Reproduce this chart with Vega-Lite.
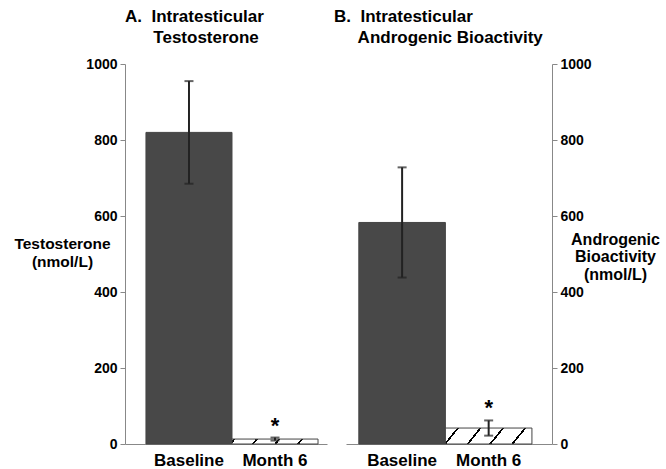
{
  "$schema": "https://vega.github.io/schema/vega-lite/v6.json",
  "background": "white",
  "padding": {"left": 13, "top": 8, "right": 4, "bottom": 0},
  "config": {
    "font": "Liberation Sans",
    "view": {"stroke": null},
    "concat": {"spacing": 19},
    "axis": {
      "labelFont": "Liberation Sans",
      "titleFont": "Liberation Sans",
      "labelFontWeight": "bold",
      "titleFontWeight": "bold",
      "labelColor": "black",
      "titleColor": "black",
      "domainColor": "#888",
      "tickColor": "#888",
      "grid": false
    }
  },
  "bounds": "flush",
  "datasets": {
    "a": [
      {"period": "Baseline", "value": 820, "lo": 685, "hi": 955, "sig": ""},
      {"period": "Month 6", "value": 13, "lo": 9, "hi": 17, "sig": "*"}
    ],
    "b": [
      {"period": "Baseline", "value": 583, "lo": 438, "hi": 728, "sig": ""},
      {"period": "Month 6", "value": 42, "lo": 22, "hi": 62, "sig": "*"}
    ]
  },
  "hconcat": [
    {
      "width": 202,
      "height": 380,
      "data": {"name": "a"},
      "title": {
        "text": ["A.\u00a0\u00a0Intratesticular", "\u200b\u00a0\u00a0\u00a0\u00a0\u00a0\u00a0Testosterone"],
        "anchor": "start",
        "align": "left",
        "frame": "group",
        "font": "Liberation Sans",
        "fontSize": 17,
        "fontWeight": "bold",
        "color": "black",
        "lineHeight": 21,
        "offset": 10
      },
      "encoding": {
        "x": {
          "field": "period",
          "type": "nominal",
          "sort": ["Baseline", "Month 6"],
          "scale": {"paddingInner": 0, "paddingOuter": 0.174, "align": 0.7},
          "axis": {"title": null, "labelAngle": 0, "ticks": false, "labelFontSize": 17, "labelPadding": 8}
        }
      },
      "layer": [
        {
          "mark": {"type": "bar", "stroke": "#444", "strokeWidth": 1},
          "encoding": {
            "y": {
              "field": "value",
              "type": "quantitative",
              "scale": {"domain": [0, 1000], "nice": false},
              "axis": {
                "values": [0, 200, 400, 600, 800, 1000],
                "format": "d",
                "tickSize": 5,
                "labelFontSize": 14,
                "labelPadding": 3,
                "title": ["Testosterone", "(nmol/L)"],
                "titleAngle": 0,
                "titleFontSize": 15.5,
                "titleAlign": "center",
                "titleBaseline": "middle",
                "titleLineHeight": 18,
                "titleX": -63,
                "titleY": 179
              }
            },
            "fill": {
              "condition": {
                "test": "datum.period === 'Month 6'",
                "value": {
                  "gradient": "linear", "x1": 0, "y1": 0, "x2": 1, "y2": 0.045,
                  "stops": [
                    {"offset": 0, "color": "white"},
                    {"offset": 0.015, "color": "white"}, {"offset": 0.015, "color": "black"},
                    {"offset": 0.04, "color": "black"}, {"offset": 0.04, "color": "white"},
                    {"offset": 0.275, "color": "white"}, {"offset": 0.275, "color": "black"},
                    {"offset": 0.3, "color": "black"}, {"offset": 0.3, "color": "white"},
                    {"offset": 0.535, "color": "white"}, {"offset": 0.535, "color": "black"},
                    {"offset": 0.56, "color": "black"}, {"offset": 0.56, "color": "white"},
                    {"offset": 0.8, "color": "white"}, {"offset": 0.8, "color": "black"},
                    {"offset": 0.825, "color": "black"}, {"offset": 0.825, "color": "white"},
                    {"offset": 1, "color": "white"}
                  ]
                }
              },
              "value": "#484848"
            }
          }
        },
        {
          "mark": {"type": "rule", "color": "#222", "strokeWidth": 2},
          "encoding": {
            "y": {"field": "lo", "type": "quantitative"},
            "y2": {"field": "hi"}
          }
        },
        {
          "mark": {"type": "tick", "color": "#222", "thickness": 2, "size": 9},
          "encoding": {"y": {"field": "hi", "type": "quantitative"}}
        },
        {
          "mark": {"type": "tick", "color": "#222", "thickness": 2, "size": 9},
          "encoding": {"y": {"field": "lo", "type": "quantitative"}}
        },
        {
          "mark": {"type": "text", "fontSize": 22, "fontWeight": "bold", "baseline": "alphabetic", "dy": -5, "color": "black"},
          "encoding": {
            "y": {"field": "hi", "type": "quantitative"},
            "text": {"field": "sig"}
          }
        }
      ]
    },
    {
      "width": 206,
      "height": 380,
      "data": {"name": "b"},
      "title": {
        "text": ["B.\u00a0\u00a0Intratesticular", "\u200b\u00a0\u00a0\u00a0\u00a0\u00a0Androgenic Bioactivity"],
        "anchor": "start",
        "align": "left",
        "frame": "group",
        "dx": -12,
        "font": "Liberation Sans",
        "fontSize": 17,
        "fontWeight": "bold",
        "color": "black",
        "lineHeight": 21,
        "offset": 10
      },
      "encoding": {
        "x": {
          "field": "period",
          "type": "nominal",
          "sort": ["Baseline", "Month 6"],
          "scale": {"paddingInner": 0, "paddingOuter": 0.19, "align": 0.39},
          "axis": {"title": null, "labelAngle": 0, "ticks": false, "labelFontSize": 17, "labelPadding": 8}
        }
      },
      "layer": [
        {
          "mark": {"type": "bar", "stroke": "#444", "strokeWidth": 1},
          "encoding": {
            "y": {
              "field": "value",
              "type": "quantitative",
              "scale": {"domain": [0, 1000], "nice": false},
              "axis": {
                "orient": "right",
                "values": [0, 200, 400, 600, 800, 1000],
                "format": "d",
                "tickSize": 5,
                "labelFontSize": 14,
                "labelPadding": 3,
                "title": ["Androgenic", "Bioactivity", "(nmol/L)"],
                "titleAngle": 0,
                "titleFontSize": 16,
                "titleAlign": "center",
                "titleBaseline": "middle",
                "titleLineHeight": 17.5,
                "titleX": 63,
                "titleY": 175
              }
            },
            "fill": {
              "condition": {
                "test": "datum.period === 'Month 6'",
                "value": {
                  "gradient": "linear", "x1": 0, "y1": 0, "x2": 1, "y2": 0.15,
                  "stops": [
                    {"offset": 0, "color": "white"},
                    {"offset": 0.13, "color": "white"}, {"offset": 0.13, "color": "black"},
                    {"offset": 0.155, "color": "black"}, {"offset": 0.155, "color": "white"},
                    {"offset": 0.385, "color": "white"}, {"offset": 0.385, "color": "black"},
                    {"offset": 0.41, "color": "black"}, {"offset": 0.41, "color": "white"},
                    {"offset": 0.64, "color": "white"}, {"offset": 0.64, "color": "black"},
                    {"offset": 0.665, "color": "black"}, {"offset": 0.665, "color": "white"},
                    {"offset": 0.89, "color": "white"}, {"offset": 0.89, "color": "black"},
                    {"offset": 0.915, "color": "black"}, {"offset": 0.915, "color": "white"},
                    {"offset": 1, "color": "white"}
                  ]
                }
              },
              "value": "#484848"
            }
          }
        },
        {
          "mark": {"type": "rule", "color": "#222", "strokeWidth": 2},
          "encoding": {
            "y": {"field": "lo", "type": "quantitative"},
            "y2": {"field": "hi"}
          }
        },
        {
          "mark": {"type": "tick", "color": "#222", "thickness": 2, "size": 9},
          "encoding": {"y": {"field": "hi", "type": "quantitative"}}
        },
        {
          "mark": {"type": "tick", "color": "#222", "thickness": 2, "size": 9},
          "encoding": {"y": {"field": "lo", "type": "quantitative"}}
        },
        {
          "mark": {"type": "text", "fontSize": 22, "fontWeight": "bold", "baseline": "alphabetic", "dy": -5, "color": "black"},
          "encoding": {
            "y": {"field": "hi", "type": "quantitative"},
            "text": {"field": "sig"}
          }
        }
      ]
    }
  ]
}
